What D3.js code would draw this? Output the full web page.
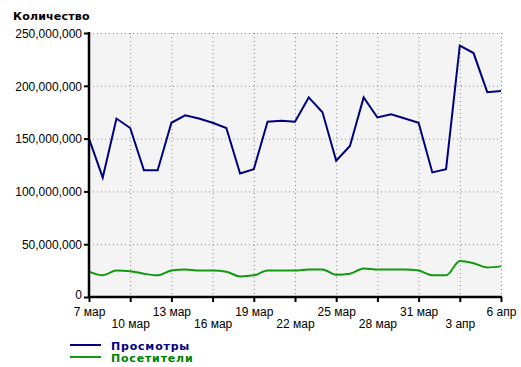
<!DOCTYPE html>
<html>
<head>
<meta charset="utf-8">
<script src="https://cdn.jsdelivr.net/npm/d3@7"></script>
<style>
  body { margin: 0; background: #fff; }
  .tick text { font-family: "Liberation Sans", Arial, sans-serif; font-size: 12px; fill: #000; }
</style>
</head>
<body>
<script>
// Chart data: 7 Mar .. 6 Apr, one value per day
var startDate = new Date(2012, 2, 7);
var views = [150, 113, 169, 160, 120, 120, 165, 172, 169, 165, 160, 117, 121,
  166, 167, 166, 189, 175, 129, 143, 189, 170, 173, 169, 165, 118, 121,
  238, 231, 194, 195].map(v => v * 1e6);
var visitors = [24, 20.5, 25, 24.5, 22, 20.5, 25, 26, 25, 25, 24, 19.5, 20.5,
  25, 25, 25, 26, 26, 21, 22, 27, 26, 26, 26, 25, 20.5, 20.5,
  34, 32, 28, 29].map(v => v * 1e6);
var yTicks = [0, 50e6, 100e6, 150e6, 200e6, 250e6];
var monthNames = ["янв", "фев", "мар", "апр", "май", "июн", "июл", "авг", "сен", "окт", "ноя", "дек"];
var seriesNames = ["Просмотры", "Посетители"];
var seriesColors = ["#00007f", "#109a10"];
var textColors = ["#000080", "#008000"];

var dates = views.map((d, i) => d3.timeDay.offset(startDate, i));

// SVG area
var svgWidth = 521;
var svgHeight = 367;
var margin = { top: 33, right: 20, bottom: 70, left: 89 };
var chartWidth = 501 - margin.left;
var chartHeight = 297 - margin.top;

var svg = d3.select("body")
  .append("svg")
  .attr("width", svgWidth)
  .attr("height", svgHeight);

var chartGroup = svg.append("g")
  .attr("transform", `translate(${margin.left}, ${margin.top})`);

var xScale = d3.scaleTime()
  .range([0, chartWidth])
  .domain([dates[0], dates[dates.length - 1]]);

var yScale = d3.scaleLinear()
  .range([chartHeight, 0])
  .domain([0, 250e6]);

var xTicks = dates.filter((d, i) => i % 3 === 0);

// plot background
chartGroup.append("rect")
  .attr("width", chartWidth)
  .attr("height", chartHeight)
  .attr("fill", "#f4f4f4");

// dotted grid
chartGroup.selectAll(".hgrid")
  .data(yTicks.filter(d => d > 0))
  .enter().append("line")
  .attr("x1", 0).attr("x2", chartWidth)
  .attr("y1", d => yScale(d) + 0.5).attr("y2", d => yScale(d) + 0.5)
  .attr("stroke", "#888").attr("stroke-dasharray", "1,3");

chartGroup.selectAll(".vgrid")
  .data(xTicks.slice(1))
  .enter().append("line")
  .attr("x1", d => xScale(d) + 0.5).attr("x2", d => xScale(d) + 0.5)
  .attr("y1", 0).attr("y2", chartHeight)
  .attr("stroke", "#888").attr("stroke-dasharray", "1,3");

// lines
var viewLine = d3.line()
  .x((d, i) => xScale(dates[i]))
  .y(d => yScale(d));

var visitLine = d3.line()
  .x((d, i) => xScale(dates[i]))
  .y(d => yScale(d))
  .curve(d3.curveMonotoneX);

chartGroup.append("path")
  .datum(views)
  .attr("d", viewLine)
  .attr("fill", "none")
  .attr("stroke", seriesColors[0])
  .attr("stroke-width", 2);

chartGroup.append("path")
  .datum(visitors)
  .attr("d", visitLine)
  .attr("fill", "none")
  .attr("stroke", seriesColors[1])
  .attr("stroke-width", 2);

// axes
var fmt = d3.format(",");
var leftAxis = d3.axisLeft(yScale)
  .tickValues(yTicks)
  .tickSize(5)
  .tickPadding(2)
  .tickFormat(d => fmt(d));

var bottomAxis = d3.axisBottom(xScale)
  .tickValues(xTicks)
  .tickSize(5)
  .tickPadding(3)
  .tickFormat(d => d.getDate() + " " + monthNames[d.getMonth()]);

var yAxisG = chartGroup.append("g").call(leftAxis);
yAxisG.select(".domain").remove();
yAxisG.selectAll(".tick line").attr("stroke", "#000").attr("stroke-width", 2);
yAxisG.selectAll(".tick text").attr("dy", "0.35em");
// the zero label sits a little higher, clear of the date row
yAxisG.selectAll(".tick text").filter(d => d === 0).attr("dy", "0.1em");

var xAxisG = chartGroup.append("g")
  .attr("transform", `translate(0, ${chartHeight})`)
  .call(bottomAxis);
xAxisG.select(".domain").remove();
xAxisG.selectAll(".tick line").attr("stroke", "#000").attr("stroke-width", 2);
xAxisG.selectAll(".tick text")
  .attr("y", (d, i) => i % 2 === 0 ? 10 : 22);

// thick axis lines
chartGroup.append("line")
  .attr("x1", 0).attr("x2", 0)
  .attr("y1", -1).attr("y2", chartHeight + 1)
  .attr("stroke", "#000").attr("stroke-width", 2.5);
chartGroup.append("line")
  .attr("x1", -1).attr("x2", chartWidth + 1)
  .attr("y1", chartHeight).attr("y2", chartHeight)
  .attr("stroke", "#000").attr("stroke-width", 2.5);

// title
svg.append("text")
  .attr("x", 13)
  .attr("y", 20)
  .style("font-family", "'DejaVu Sans', Verdana, sans-serif")
  .style("font-weight", "bold")
  .style("font-size", "11px")
  .style("letter-spacing", "0.2px")
  .text("Количество");

// legend
var legend = svg.append("g").attr("transform", "translate(70, 345)");
seriesNames.forEach(function(name, i) {
  legend.append("line")
    .attr("x1", 0).attr("x2", 31)
    .attr("y1", i * 12).attr("y2", i * 12)
    .attr("stroke", seriesColors[i]).attr("stroke-width", 2);
  legend.append("text")
    .attr("x", 41)
    .attr("y", i * 12 + 4.5)
    .style("font-family", "'DejaVu Sans', Verdana, sans-serif")
    .style("font-weight", "bold")
    .style("font-size", "11px")
    .style("letter-spacing", "0.8px")
    .attr("fill", textColors[i])
    .text(name);
});
</script>
</body>
</html>
